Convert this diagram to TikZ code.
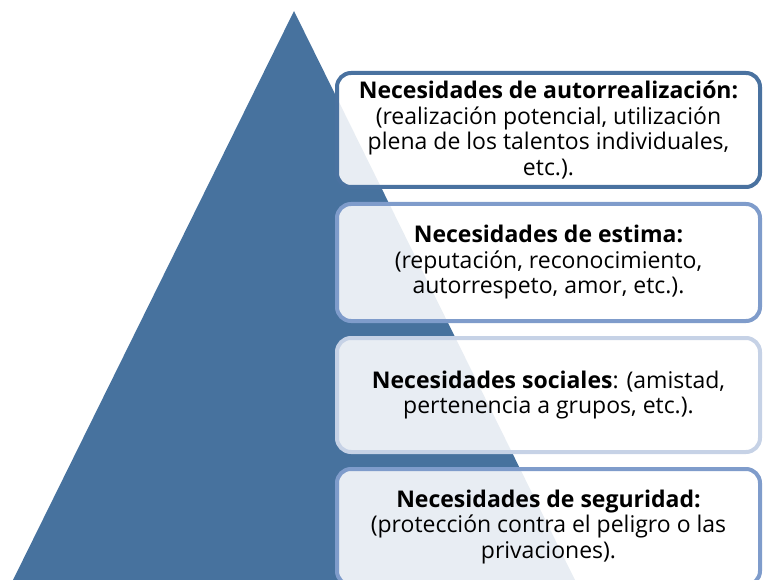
\documentclass[tikz,border=0pt]{standalone}
\usepackage{fontspec}
\setmainfont{Open Sans}
\usepackage{tikz}
\usetikzlibrary{positioning, calc}

\definecolor{pyrblue}{HTML}{47729E}
\definecolor{edgedark}{HTML}{4A72A0}
\definecolor{edgemid}{HTML}{7F9CCB}
\definecolor{edgelight}{HTML}{C6D2E6}

\begin{document}
\begin{tikzpicture}[
  x=1pt, y=-1pt,
  need/.style = {draw, line width=4pt, rounded corners=14pt, fill=white, fill opacity=0.88,
                 text opacity=1, minimum width=423pt, minimum height=114pt,
                 align=center, inner sep=0pt},
  every node/.style = {font=\fontsize{23}{25.5}\selectfont}
]

% Frame
\useasboundingbox (0,0) rectangle (763,580);
\clip (0,0) rectangle (763,580);

% Coordinates
\coordinate (apex) at (294,11);
\coordinate (baseL) at (13,580);
\coordinate (baseR) at (575,580);

% Pyramid
\fill[pyrblue] (apex) -- (baseL) -- (baseR) -- cycle;

% Levels of needs
\node[need, draw=edgedark] (selfreal) at (548.5,130)
  {\textbf{Necesidades de autorrealización:}\\(realización potencial, utilización\\plena de los talentos individuales,\\etc.).};
\node[need, draw=edgemid, minimum height=117pt] (esteem) at (548.5,262.5)
  {\textbf{Necesidades de estima:}\\(reputación, reconocimiento,\\autorrespeto, amor, etc.).};
\node[need, draw=edgelight] (social) at (548.5,395)
  {\textbf{Necesidades sociales}: (amistad,\\pertenencia a grupos, etc.).};
\node[need, draw=edgemid, minimum height=116pt] (safety) at (548.5,527)
  {\textbf{Necesidades de seguridad:}\\(protección contra el peligro o las\\privaciones).};

\end{tikzpicture}
\end{document}
